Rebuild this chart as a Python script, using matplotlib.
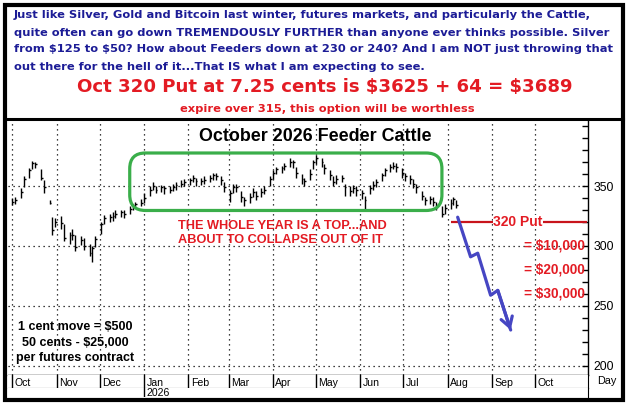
import matplotlib
matplotlib.use('Agg')
import matplotlib.pyplot as plt
import matplotlib.dates as mdates
from matplotlib.patches import FancyBboxPatch, Rectangle
from matplotlib.lines import Line2D
from matplotlib.ticker import MultipleLocator
import pandas as pd
import numpy as np

# ---------------- data ----------------
closes = [337, 338, 345, 356, 363, 369, 368, 357, 349, 336,
          313, 320, 319, 307, 309, 309, 299, 305, 300, 294,
          298, 306, 318, 323, 324, 325, 327, 328, 327, 331,
          333, 335, 336, 340, 347, 350, 347, 349, 348, 347,
          349, 351, 352, 353, 355, 357, 354, 354, 355, 357,
          359, 358, 355, 349, 344, 349, 349, 341, 338, 341,
          345, 342, 345, 347, 356, 361, 364, 365, 367, 370,
          370, 361, 356, 354, 360, 370, 373, 370, 365, 359,
          353, 356, 357, 349, 346, 348, 347, 344, 338, 348,
          351, 353, 359, 363, 366, 367, 366, 361, 358, 356,
          352, 349, 342, 338, 339, 337, 334, 327, 332, 336,
          339, 334]
lows = [334, 335, 340, 349, 357, 364, 365, 355, 344, 335,
        309, 316, 314, 304, 302, 305, 296, 301, 297, 292,
        287, 299, 310, 318, 320, 321, 323, 324, 323, 327,
        330, 332, 333, 336, 342, 347, 344, 345, 343, 344,
        346, 347, 349, 350, 351, 353, 350, 351, 352, 353,
        355, 355, 351, 345, 337, 344, 345, 337, 333, 336,
        341, 338, 341, 343, 350, 356, 360, 361, 363, 366,
        365, 357, 352, 350, 355, 364, 368, 366, 360, 355,
        350, 352, 353, 342, 342, 344, 342, 339, 330, 343,
        347, 349, 354, 358, 362, 364, 362, 357, 354, 352,
        348, 344, 338, 334, 335, 333, 330, 324, 327, 331,
        334, 332]
highs = [340, 341, 348, 358, 365, 371, 370, 364, 355, 338,
         324, 323, 325, 318, 312, 314, 309, 308, 307, 302,
         300, 308, 320, 326, 327, 328, 330, 330, 330, 333,
         335, 337, 339, 344, 350, 353, 350, 351, 350, 350,
         352, 353, 355, 356, 357, 359, 357, 357, 358, 359,
         361, 361, 358, 353, 347, 352, 352, 346, 341, 344,
         348, 346, 348, 350, 358, 363, 366, 367, 369, 373,
         372, 366, 360, 357, 364, 372, 376, 373, 368, 363,
         358, 359, 359, 352, 350, 351, 350, 347, 342, 351,
         354, 356, 361, 365, 368, 370, 369, 365, 361, 359,
         356, 352, 346, 341, 342, 341, 337, 333, 335, 339,
         341, 338]
bar_dates = pd.date_range('2025-10-01', periods=len(closes), freq='2B')

month_starts = pd.date_range('2025-10-01', '2026-10-01', freq='MS')
month_labels = ['Oct', 'Nov', 'Dec', 'Jan', 'Feb', 'Mar', 'Apr', 'May',
                'Jun', 'Jul', 'Aug', 'Sep', 'Oct']
year_label = '2026'
year_start = pd.Timestamp('2026-01-01')

y_ticks = [200, 250, 300, 350]

# projected path (blue arrow)
arrow_dates = pd.to_datetime(['2026-08-08', '2026-08-17', '2026-08-22',
                              '2026-08-31', '2026-09-05', '2026-09-14'])
arrow_vals = [324, 291, 294, 259, 263, 230]

put_strike = 320
payoff_levels = [300, 280, 260]
payoff_labels = ['= $10,000', '= $20,000', '= $30,000']

# consolidation box
box_start, box_end = pd.Timestamp('2025-12-22'), pd.Timestamp('2026-07-28')
box_low, box_high = 329.6, 377.5

header_lines = [
    "Just like Silver, Gold and Bitcoin last winter, futures markets, and particularly the Cattle,",
    "quite often can go down TREMENDOUSLY FURTHER than anyone ever thinks possible. Silver",
    "from $125 to $50? How about Feeders down at 230 or 240? And I am NOT just throwing that",
    "out there for the hell of it...That IS what I am expecting to see.",
]
offer_text = "Oct 320 Put at 7.25 cents is $3625 + 64 = $3689"
expire_text = "expire over 315, this option will be worthless"
title_text = "October 2026 Feeder Cattle"
top_text = "THE WHOLE YEAR IS A TOP...AND\nABOUT TO COLLAPSE OUT OF IT"
contract_text = "1 cent move = $500\n50 cents - $25,000\nper futures contract"

# ---------------- style ----------------
plt.rcParams['font.family'] = ['Liberation Sans', 'DejaVu Sans']
plt.rcParams['text.parse_math'] = False
WIDE = ['DejaVu Sans']
BLUE_TXT = '#1c1c96'
RED = '#e31b23'
GREEN = '#3aae4a'
ARROW = '#4646c3'
DOT = (0, (1, 3))

W, H = 631, 408
fig = plt.figure(figsize=(W / 100, H / 100), dpi=100)
fig.patch.set_facecolor('white')


def fx(x):
    return x / W


def fy(y):
    return 1 - y / H


d2n = mdates.date2num
xlim = (d2n(pd.Timestamp('2025-09-28')), d2n(pd.Timestamp('2026-11-07')))

# ---------------- header text ----------------
for i, line in enumerate(header_lines):
    fig.text(fx(14), fy(15.5 + i * 17), line, color=BLUE_TXT, fontsize=8.25,
             family=WIDE, fontweight='bold', ha='left', va='center')
fig.text(fx(324.5), fy(87.5), offer_text, color=RED, fontsize=13.1,
         family=WIDE, fontweight='bold', ha='center', va='center')
fig.text(fx(327), fy(108.5), expire_text, color=RED, fontsize=8.25, family=WIDE,
         fontweight='bold', ha='center', va='center')

# ---------------- main axes ----------------
ax = fig.add_axes([fx(8), fy(375), fx(588) - fx(8), fy(120) - fy(375)])
ax.set_xlim(*xlim)
ax.set_ylim(192.5, 405)
for s in ['left', 'top']:
    ax.spines[s].set_visible(False)
ax.spines['right'].set_linewidth(1)
ax.spines['bottom'].set_linewidth(1)
ax.set_xticks([])
ax.yaxis.tick_right()
ax.set_yticks(y_ticks)
ax.yaxis.set_minor_locator(MultipleLocator(10))
ax.tick_params(axis='y', which='both', direction='in', length=4, width=1,
               labelsize=8.8, pad=4)

for v in y_ticks:
    ax.axhline(v, ls=DOT, lw=0.9, color='black', zorder=1)
for m in month_starts:
    ax.axvline(d2n(m), ls=DOT, lw=0.9, color='black', zorder=1)

xb = d2n(bar_dates.values)
ax.vlines(xb, lows, highs, color='black', lw=1, zorder=3)
ax.hlines(closes, xb, xb + 1.3, color='black', lw=1, zorder=3)

box = FancyBboxPatch((d2n(box_start), box_low), d2n(box_end) - d2n(box_start),
                     box_high - box_low,
                     boxstyle='round,pad=0,rounding_size=11', mutation_aspect=1.19,
                     fill=False, ec=GREEN, lw=2.3, zorder=4)
ax.add_patch(box)

ax.text(0.529, 0.937, title_text, transform=ax.transAxes, fontsize=12.9,
        fontweight='bold', ha='center', va='center', color='black')

ax.text(d2n(pd.Timestamp('2026-01-25')), 310.6, top_text, color=RED,
        fontsize=9.2, fontweight='bold', ha='left', va='center', linespacing=1.25)

ax.text(d2n(pd.Timestamp('2025-11-14')), 219.5, contract_text, color='black',
        fontsize=9, fontweight='bold', ha='center', va='center', linespacing=1.4)

# 320 put line
ax.hlines(put_strike, d2n(pd.Timestamp('2026-08-03')), xlim[1] - 0.5,
          color='#c8141c', lw=1.6, zorder=4)
ax.text(d2n(pd.Timestamp('2026-09-19')), put_strike, f'{put_strike} Put',
        color=RED, fontsize=10, fontweight='bold', ha='center', va='center',
        zorder=5, bbox=dict(fc='white', ec='none', pad=0.3))
for lvl, lab in zip(payoff_levels, payoff_labels):
    ax.text(d2n(pd.Timestamp('2026-11-05')), lvl, lab, color=RED, fontsize=9.8,
            fontweight='bold', ha='right', va='center', zorder=5)

# blue arrow
xa = d2n(arrow_dates.values)
ax.plot(xa, arrow_vals, color=ARROW, lw=2.3, zorder=6, solid_capstyle='round')
ax.annotate('', xy=(xa[-1], arrow_vals[-1]), xytext=(xa[-2], arrow_vals[-2]),
            arrowprops=dict(arrowstyle='->,head_length=0.5,head_width=0.3',
                            color=ARROW, lw=2.3, mutation_scale=14,
                            shrinkA=0, shrinkB=0), zorder=6)

# ---------------- month row ----------------
axm = fig.add_axes([fx(8), fy(388), fx(588) - fx(8), fy(375) - fy(388)])
axm.set_xlim(*xlim)
axm.set_ylim(0, 1)
axm.set_xticks([])
axm.set_yticks([])
for s in ['left', 'top']:
    axm.spines[s].set_visible(False)
for m, lab in zip(month_starts, month_labels):
    axm.axvline(d2n(m), color='black', lw=1)
    axm.text(d2n(m) + 1.6, 0.42, lab, fontsize=7.6, ha='left', va='center')

# ---------------- year row ----------------
axy = fig.add_axes([fx(8), fy(397), fx(588) - fx(8), fy(388) - fy(397)])
axy.set_xlim(*xlim)
axy.set_ylim(0, 1)
axy.set_xticks([])
axy.set_yticks([])
for s in ['left', 'top', 'bottom']:
    axy.spines[s].set_visible(False)
axy.axvline(d2n(year_start), color='black', lw=1)
axy.text(d2n(year_start) + 1.6, 0.45, year_label, fontsize=7.6, ha='left',
         va='center')

fig.text(fx(607), fy(381), 'Day', fontsize=7.8, ha='center', va='center')

# ---------------- frame ----------------
fig.add_artist(Rectangle((fx(5), fy(400)), fx(623) - fx(5), fy(5) - fy(400),
                         transform=fig.transFigure, fill=False, lw=3, ec='black'))
fig.add_artist(Line2D([fx(5), fx(623)], [fy(118.5), fy(118.5)], lw=2.2,
                      color='black', transform=fig.transFigure))

fig.savefig('out.png', dpi=100, facecolor='white')
